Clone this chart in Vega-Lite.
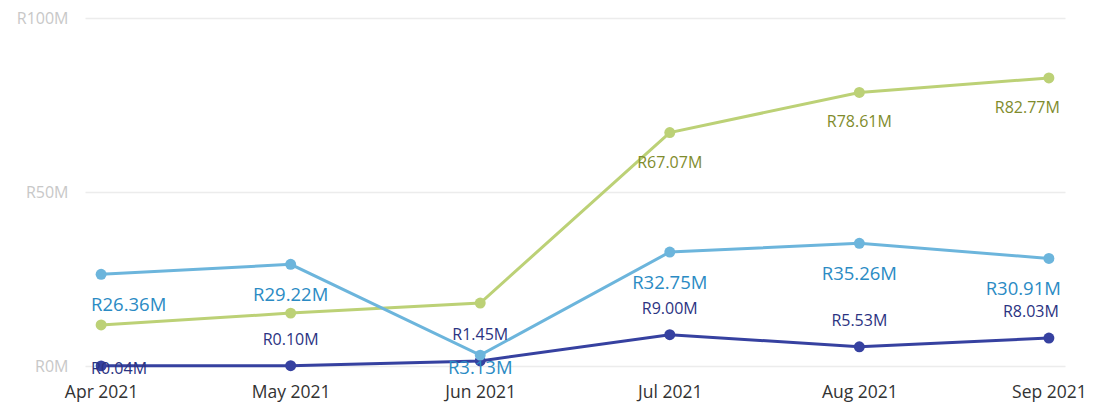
{
  "$schema": "https://vega.github.io/schema/vega-lite/v6.json",
  "width": 980,
  "height": 348,
  "autosize": {"type": "none"},
  "padding": {"left": 85, "top": 18, "right": 36, "bottom": 48},
  "background": "#ffffff",
  "config": {
    "view": {"stroke": null},
    "font": "Open Sans"
  },
  "data": {
    "values": [
      {"month": "Apr 2021", "series": "Series C", "value": 0.04},
      {"month": "May 2021", "series": "Series C", "value": 0.10},
      {"month": "Jun 2021", "series": "Series C", "value": 1.45},
      {"month": "Jul 2021", "series": "Series C", "value": 9.00},
      {"month": "Aug 2021", "series": "Series C", "value": 5.53},
      {"month": "Sep 2021", "series": "Series C", "value": 8.03},
      {"month": "Apr 2021", "series": "Series A", "value": 11.8},
      {"month": "May 2021", "series": "Series A", "value": 15.2},
      {"month": "Jun 2021", "series": "Series A", "value": 18.1},
      {"month": "Jul 2021", "series": "Series A", "value": 67.07},
      {"month": "Aug 2021", "series": "Series A", "value": 78.61},
      {"month": "Sep 2021", "series": "Series A", "value": 82.77},
      {"month": "Apr 2021", "series": "Series B", "value": 26.36},
      {"month": "May 2021", "series": "Series B", "value": 29.22},
      {"month": "Jun 2021", "series": "Series B", "value": 3.13},
      {"month": "Jul 2021", "series": "Series B", "value": 32.75},
      {"month": "Aug 2021", "series": "Series B", "value": 35.26},
      {"month": "Sep 2021", "series": "Series B", "value": 30.91}
    ]
  },
  "transform": [
    {"calculate": "'R' + format(datum.value, '.2f') + 'M'", "as": "label"}
  ],
  "encoding": {
    "x": {
      "field": "month", "type": "ordinal", "sort": null,
      "scale": {"type": "point", "padding": 0.085},
      "axis": {"title": null, "domain": false, "ticks": false, "grid": false, "labelAngle": 0,
               "labelFontSize": 17.5, "labelColor": "#333333", "labelPadding": 17, "labelFont": "Open Sans"}
    },
    "y": {
      "field": "value", "type": "quantitative",
      "scale": {"domain": [0, 100], "nice": false},
      "axis": {"title": null, "domain": false, "ticks": false, "values": [0, 50, 100],
               "labelExpr": "'R' + datum.value + 'M'", "labelColor": "#c8c8c8", "labelFontSize": 16,
               "labelPadding": 17, "gridColor": "#ececec", "gridWidth": 1.5, "labelFont": "Open Sans"}
    }
  },
  "layer": [
    {
      "mark": {"type": "line", "strokeWidth": 3, "point": {"size": 120, "filled": true, "opacity": 1}},
      "encoding": {
        "color": {
          "field": "series", "type": "nominal", "legend": null,
          "scale": {"domain": ["Series C", "Series A", "Series B"], "range": ["#3641a0", "#bcd176", "#6cb5dc"]}
        }
      }
    },
    {
      "transform": [{"filter": "datum.series == 'Series A' && datum.value > 50"}],
      "mark": {"type": "text", "dy": 30, "fontSize": 16, "color": "#7f8c2d", "baseline": "middle",
               "align": {"expr": "datum.month == 'Apr 2021' ? 'left' : datum.month == 'Sep 2021' ? 'right' : 'center'"},
               "dx": {"expr": "datum.month == 'Apr 2021' ? -10 : datum.month == 'Sep 2021' ? 11 : 0"}},
      "encoding": {"text": {"field": "label"}}
    },
    {
      "transform": [{"filter": "datum.series == 'Series B'"}],
      "mark": {"type": "text", "fontSize": 18.5, "color": "#2b8bc4", "baseline": "middle",
               "dy": {"expr": "datum.month == 'Jun 2021' ? 13 : 31"},
               "align": {"expr": "datum.month == 'Apr 2021' ? 'left' : datum.month == 'Sep 2021' ? 'right' : 'center'"},
               "dx": {"expr": "datum.month == 'Apr 2021' ? -10 : datum.month == 'Sep 2021' ? 12 : 0"}},
      "encoding": {"text": {"field": "label"}}
    },
    {
      "transform": [{"filter": "datum.series == 'Series C'"}],
      "mark": {"type": "text", "fontSize": 16, "color": "#2b3382", "baseline": "middle",
               "dy": {"expr": "datum.month == 'Apr 2021' ? 3 : -26"},
               "align": {"expr": "datum.month == 'Apr 2021' ? 'left' : datum.month == 'Sep 2021' ? 'right' : 'center'"},
               "dx": {"expr": "datum.month == 'Apr 2021' ? -10 : datum.month == 'Sep 2021' ? 10 : 0"}},
      "encoding": {"text": {"field": "label"}}
    }
  ]
}
